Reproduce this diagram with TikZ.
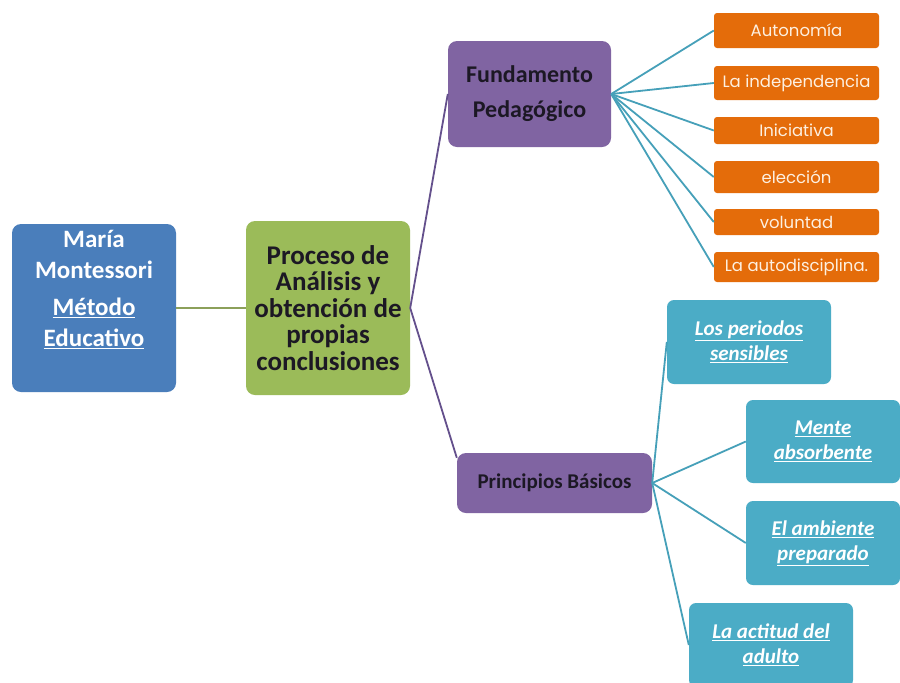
\documentclass[tikz,border=0pt]{standalone}
\usepackage{fontspec}
\setmainfont{Carlito}
\newfontfamily\orfont{Poppins}
\definecolor{cblue}{RGB}{74,126,187}
\definecolor{cgreen}{RGB}{155,187,89}
\definecolor{cpurple}{RGB}{128,100,162}
\definecolor{corange}{RGB}{228,108,10}
\definecolor{cteal}{RGB}{75,172,198}
\definecolor{ltext}{RGB}{28,24,36}
\definecolor{otext}{RGB}{253,240,225}
\definecolor{lpurple}{RGB}{100,80,140}
\definecolor{lgreen}{RGB}{140,160,90}
\definecolor{lteal}{RGB}{70,160,185}
\begin{document}
\begin{tikzpicture}[x=1pt,y=-1pt,
  box/.style={rounded corners=9pt, align=center, inner sep=2pt},
  bluebox/.style={box, fill=cblue, text=white, font=\fontsize{25}{31}\selectfont\bfseries},
  greenbox/.style={box, fill=cgreen, text=ltext, font=\fontsize{27}{26.5}\selectfont\bfseries},
  purplebox/.style={box, fill=cpurple, text=ltext, font=\fontsize{24}{35}\selectfont\bfseries},
  orangebox/.style={rounded corners=3pt, fill=corange, text=otext, align=center, inner sep=1pt, minimum width=165pt, font=\orfont\fontsize{16.5}{18}\selectfont},
  tealbox/.style={box, rounded corners=7pt, fill=cteal, text=white, font=\fontsize{21}{25}\selectfont\bfseries\itshape},
  lnpurple/.style={draw=lpurple, line width=1.8pt},
  lngreen/.style={draw=lgreen, line width=2pt},
  lnteal/.style={draw=lteal, line width=1.8pt}]
\useasboundingbox (0,0) rectangle (900,683);
\fill[white] (0,0) rectangle (900,683);
% main boxes
\node[bluebox, minimum width=164pt, minimum height=168pt] (mm) at (94,308)
  {María\\Montessori\\[6pt]\underline{Método}\\\underline{Educativo}\\[8pt]};
\node[greenbox, minimum width=164pt, minimum height=174pt] (pa) at (328,308)
  {Proceso de\\Análisis y\\obtención de\\propias\\conclusiones};
\node[purplebox, minimum width=163pt, minimum height=106pt] (fp) at (529.5,94)
  {Fundamento\\Pedagógico};
\node[purplebox, font=\fontsize{21}{25}\selectfont\bfseries, minimum width=195pt, minimum height=60pt] (pb) at (554.5,483)
  {Principios Básicos};
% orange boxes
\node[orangebox, minimum height=35pt] (o1) at (796.5,30.5) {Autonomía};
\node[orangebox, minimum height=34pt] (o2) at (796.5,83) {La independencia};
\node[orangebox, minimum height=27pt] (o3) at (796.5,130.5) {Iniciativa};
\node[orangebox, minimum height=32pt] (o4) at (796.5,177) {elección};
\node[orangebox, minimum height=26pt] (o5) at (796.5,222) {voluntad};
\node[orangebox, minimum height=30pt] (o6) at (796.5,267) {La autodisciplina.};
% teal boxes
\node[tealbox, minimum width=164pt, minimum height=84pt] (t1) at (749,342)
  {\underline{Los periodos}\\\underline{sensibles}};
\node[tealbox, minimum width=154pt, minimum height=83pt] (t2) at (823,441.5)
  {\underline{Mente}\\\underline{absorbente}};
\node[tealbox, minimum width=154pt, minimum height=84pt] (t3) at (823,543)
  {\underline{El ambiente}\\\underline{preparado}};
\node[tealbox, minimum width=164pt, minimum height=84pt] (t4) at (771,645)
  {\underline{La actitud del}\\\underline{adulto}};
% connectors
\draw[lngreen] (mm.east) -- (pa.east -| pa.west);
\draw[lnpurple] (fp.west) -- (pa.east) -- ([yshift=-5pt]pb.north west);
\foreach \o in {o1,o2,o3,o4,o5,o6} \draw[lnteal] (fp.east) -- (\o.west);
\foreach \t in {t1,t2,t3,t4} \draw[lnteal] (pb.east) -- (\t.west);
\end{tikzpicture}
\end{document}
